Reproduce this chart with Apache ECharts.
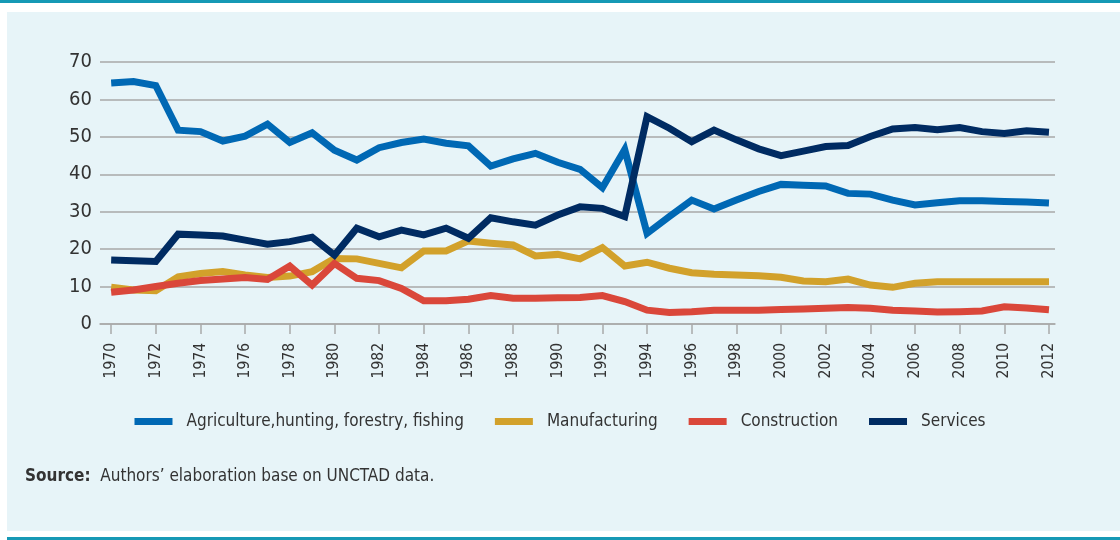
<!DOCTYPE html>
<html>
<head>
<meta charset="utf-8">
<script src="https://cdn.jsdelivr.net/npm/echarts@6/dist/echarts.min.js"></script>
<style>
  html, body { margin: 0; padding: 0; background: #fff; }
  #frame { position: relative; width: 1120px; height: 540px; overflow: hidden; }
  #topbar { position: absolute; left: 0; top: 0; width: 1120px; height: 3px; background: #1699b5; }
  #panel { position: absolute; left: 7px; top: 12px; width: 1113px; height: 519px; background: #e7f4f8; }
  #botline { position: absolute; left: 7px; top: 537px; width: 1113px; height: 3px; background: #1699b5; }
  #chart { position: absolute; left: 0; top: 0; width: 1120px; height: 540px; }
</style>
</head>
<body>
<div id="frame">
  <div id="topbar"></div>
  <div id="panel"></div>
  <div id="botline"></div>
  <div id="chart"></div>
</div>
<script>
// 部門別構成比の推移（1970-2012）
const years = [1970, 1971, 1972, 1973, 1974, 1975, 1976, 1977, 1978, 1979,
  1980, 1981, 1982, 1983, 1984, 1985, 1986, 1987, 1988, 1989,
  1990, 1991, 1992, 1993, 1994, 1995, 1996, 1997, 1998, 1999,
  2000, 2001, 2002, 2003, 2004, 2005, 2006, 2007, 2008, 2009,
  2010, 2011, 2012];
const tickYears = [1970, 1972, 1974, 1976, 1978, 1980, 1982, 1984, 1986, 1988,
  1990, 1992, 1994, 1996, 1998, 2000, 2002, 2004, 2006, 2008, 2010, 2012];

const agriculture = [64.4, 64.8, 63.7, 51.8, 51.4, 48.9, 50.2, 53.4, 48.5, 51.1,
  46.4, 43.8, 47.1, 48.5, 49.4, 48.3, 47.6, 42.2, 44.1, 45.6,
  43.2, 41.3, 36.4, 46.6, 24.2, 28.7, 33.1, 30.7, 33.1, 35.4,
  37.3, 37.1, 36.9, 34.9, 34.7, 33.1, 31.8, 32.4, 32.9, 32.9,
  32.7, 32.6, 32.3];
const manufacturing = [9.8, 9.1, 8.9, 12.6, 13.5, 14.0, 13.1, 12.4, 12.8, 14.0,
  17.5, 17.4, 16.2, 15.0, 19.5, 19.5, 22.2, 21.6, 21.1, 18.2,
  18.6, 17.4, 20.4, 15.5, 16.5, 14.9, 13.7, 13.3, 13.1, 12.9,
  12.5, 11.5, 11.3, 12.0, 10.4, 9.8, 10.9, 11.3, 11.3, 11.3,
  11.3, 11.3, 11.3];
const construction = [8.5, 9.1, 10.0, 10.9, 11.6, 12.0, 12.4, 11.9, 15.5, 10.4,
  16.2, 12.2, 11.6, 9.5, 6.2, 6.2, 6.6, 7.6, 6.9, 6.9,
  7.0, 7.1, 7.6, 6.0, 3.7, 3.1, 3.3, 3.7, 3.7, 3.7,
  3.9, 4.0, 4.2, 4.4, 4.2, 3.7, 3.5, 3.2, 3.3, 3.5,
  4.6, 4.3, 3.8];
const services = [17.1, 16.9, 16.7, 24.0, 23.8, 23.5, 22.4, 21.3, 22.0, 23.2,
  18.4, 25.6, 23.3, 25.1, 23.8, 25.6, 22.9, 28.4, 27.3, 26.4,
  29.1, 31.3, 30.9, 28.7, 55.4, 52.3, 48.7, 51.8, 49.2, 46.8,
  45.0, 46.2, 47.4, 47.7, 50.1, 52.1, 52.5, 51.9, 52.5, 51.4,
  50.9, 51.6, 51.2];

const seriesNames = ['Agriculture,hunting, forestry, fishing', 'Manufacturing', 'Construction', 'Services'];
const sourceLabel = 'Source:';
const sourceText = 'Authors’ elaboration base on UNCTAD data.';

(() => {
  const FONT = '"DejaVu Sans Condensed", "Liberation Sans Narrow", "Roboto", sans-serif';
  const TEXT = '#333333';
  const GRID = '#a9a9a9';
  const COLORS = ['#0068b4', '#d2a12b', '#da473a', '#002b62'];
  const values = [agriculture, manufacturing, construction, services];

  const chart = echarts.init(document.getElementById('chart'), null, { renderer: 'canvas' });

  chart.setOption({
    backgroundColor: 'transparent',
    animation: false,
    textStyle: { fontFamily: FONT },
    grid: { left: 100, right: 65, top: 62, bottom: 216 },
    legend: {
      data: seriesNames,
      left: 'center',
      top: 408,
      icon: 'rect',
      itemWidth: 38,
      itemHeight: 7,
      itemGap: 31,
      textStyle: { color: TEXT, fontSize: 17, fontFamily: FONT, padding: [0, 0, 0, 9] },
    },
    xAxis: {
      type: 'value',
      min: 1969.5,
      max: 2012.27,
      splitLine: { show: false },
      axisLine: { lineStyle: { color: GRID, width: 1.5 } },
      axisTick: { customValues: tickYears, length: 10, lineStyle: { color: GRID, width: 1.5 } },
      axisLabel: {
        customValues: tickYears,
        rotate: 90,
        margin: 19,
        color: TEXT,
        fontSize: 15.5,
        fontFamily: FONT,
        formatter: (v) => String(v),
      },
    },
    yAxis: {
      type: 'value',
      min: 0,
      max: 70,
      interval: 10,
      axisLine: { show: false },
      axisTick: { show: false },
      axisLabel: { color: TEXT, fontSize: 20, fontFamily: FONT, margin: 8 },
      splitLine: { lineStyle: { color: GRID, width: 1.5 } },
    },
    graphic: [{
      type: 'text',
      left: 25,
      top: 468,
      style: {
        text: `{b|${sourceLabel}}  ${sourceText}`,
        fill: TEXT,
        font: `17px ${FONT}`,
        rich: { b: { fontWeight: 'bold', fontSize: 17, fontFamily: FONT, fill: TEXT } },
      },
    }],
    series: seriesNames.map((name, i) => ({
      name,
      type: 'line',
      data: years.map((y, j) => [y, values[i][j]]),
      showSymbol: false,
      lineStyle: { color: COLORS[i], width: 7, join: 'miter', cap: 'butt' },
      itemStyle: { color: COLORS[i] },
    })),
  });
})();
</script>
</body>
</html>
